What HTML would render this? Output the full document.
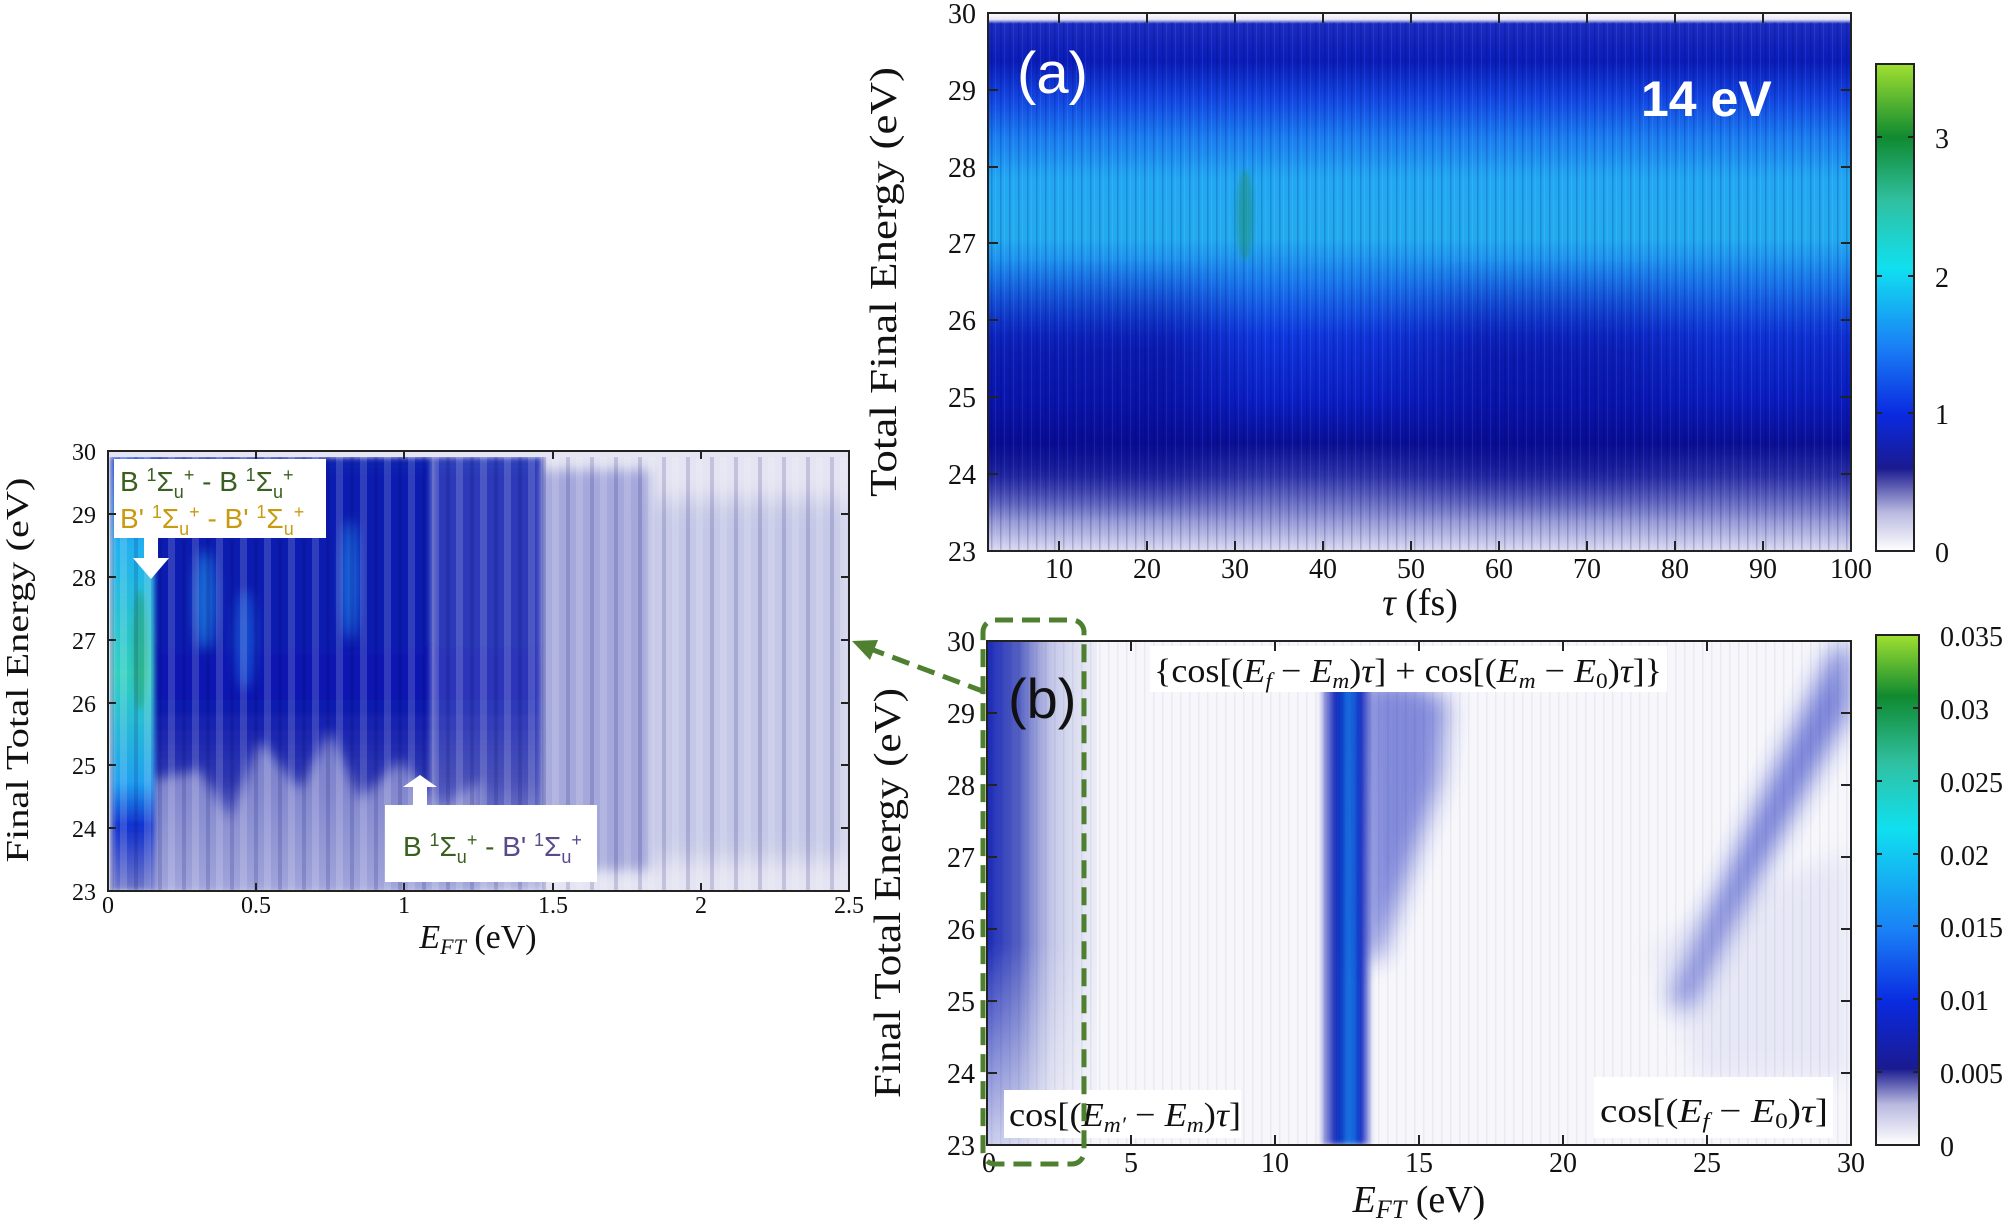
<!DOCTYPE html>
<html><head><meta charset="utf-8"><style>
html,body{margin:0;padding:0;background:#fff;}
svg{display:block;}
text{font-family:"Liberation Serif",serif;fill:#111;}
.s{font-family:"Liberation Sans",sans-serif;}
</style></head><body>
<svg width="2010" height="1223" viewBox="0 0 2010 1223" xmlns="http://www.w3.org/2000/svg">
<defs>
<linearGradient id="av" x1="0" y1="0" x2="0" y2="1">
<stop offset="0" stop-color="#ffffff"/><stop offset="0.012" stop-color="#e6e6f6"/>
<stop offset="0.02" stop-color="#1a2cc0"/><stop offset="0.09" stop-color="#0a1cb8"/>
<stop offset="0.16" stop-color="#1246e2"/><stop offset="0.23" stop-color="#1a7cf0"/>
<stop offset="0.31" stop-color="#22a8f2"/><stop offset="0.42" stop-color="#22aaef"/>
<stop offset="0.5" stop-color="#1a7aee"/><stop offset="0.6" stop-color="#1038e0"/>
<stop offset="0.72" stop-color="#0b20c8"/><stop offset="0.8" stop-color="#0a1096"/>
<stop offset="0.86" stop-color="#3036aa"/><stop offset="0.93" stop-color="#8388cf"/>
<stop offset="1" stop-color="#dcdcf2"/></linearGradient>
<linearGradient id="ah" x1="0" y1="0" x2="1" y2="0">
<stop offset="0" stop-color="#080a90" stop-opacity="0.5"/>
<stop offset="0.2" stop-color="#080a90" stop-opacity="0.6"/>
<stop offset="0.32" stop-color="#080a90" stop-opacity="0"/>
<stop offset="0.45" stop-color="#080a90" stop-opacity="0.1"/>
<stop offset="0.58" stop-color="#080a90" stop-opacity="0.55"/>
<stop offset="0.72" stop-color="#080a90" stop-opacity="0.5"/>
<stop offset="0.85" stop-color="#080a90" stop-opacity="0.15"/>
<stop offset="1" stop-color="#080a90" stop-opacity="0.2"/></linearGradient>
<linearGradient id="amv" x1="0" y1="0" x2="0" y2="1">
<stop offset="0" stop-color="#000"/><stop offset="0.35" stop-color="#fff"/>
<stop offset="0.75" stop-color="#fff"/><stop offset="1" stop-color="#000"/></linearGradient>
<mask id="am"><rect x="988" y="260" width="863" height="260" fill="url(#amv)"/></mask>
<pattern id="str" width="9" height="10" patternUnits="userSpaceOnUse">
<rect x="1" width="1.5" height="10" fill="#000050" opacity="0.18"/>
<rect x="5" width="1" height="10" fill="#fff" opacity="0.08"/></pattern>
<linearGradient id="cba" x1="0" y1="1" x2="0" y2="0">
<stop offset="0" stop-color="#ffffff"/><stop offset="0.08" stop-color="#b8b8e0"/>
<stop offset="0.17" stop-color="#1a1a90"/><stop offset="0.28" stop-color="#0a2ae0"/>
<stop offset="0.42" stop-color="#1a80f6"/><stop offset="0.58" stop-color="#10e0f0"/>
<stop offset="0.72" stop-color="#30c0a0"/><stop offset="0.85" stop-color="#108a30"/>
<stop offset="1" stop-color="#a0e030"/></linearGradient>
<linearGradient id="cbb" x1="0" y1="1" x2="0" y2="0">
<stop offset="0" stop-color="#ffffff"/><stop offset="0.08" stop-color="#b8b8e0"/>
<stop offset="0.15" stop-color="#1a1a90"/><stop offset="0.28" stop-color="#0a2ae0"/>
<stop offset="0.42" stop-color="#1a80f6"/><stop offset="0.62" stop-color="#10e0f0"/>
<stop offset="0.75" stop-color="#30c0a0"/><stop offset="0.88" stop-color="#108a30"/>
<stop offset="1" stop-color="#a0e030"/></linearGradient>
<linearGradient id="bl" x1="0" y1="0" x2="1" y2="0">
<stop offset="0" stop-color="#1a2ab8"/><stop offset="0.3" stop-color="#2030b0" stop-opacity="0.75"/>
<stop offset="0.6" stop-color="#8890d0" stop-opacity="0.45"/><stop offset="1" stop-color="#c0c4e8" stop-opacity="0.2"/></linearGradient>
<linearGradient id="blv" x1="0" y1="0" x2="0" y2="1">
<stop offset="0" stop-color="#fff"/><stop offset="0.6" stop-color="#fff"/><stop offset="1" stop-color="#333"/></linearGradient>
<mask id="blm"><rect x="987" y="641" width="120" height="504" fill="url(#blv)"/></mask>
<linearGradient id="bc" x1="0" y1="0" x2="1" y2="0">
<stop offset="0" stop-color="#5058c8" stop-opacity="0.5"/><stop offset="0.3" stop-color="#0a20b8"/>
<stop offset="0.6" stop-color="#1a80e8"/><stop offset="0.8" stop-color="#0a20c0"/><stop offset="1" stop-color="#3040c0" stop-opacity="0.4"/></linearGradient>
<filter id="bl3" x="-50%" y="-20%" width="200%" height="140%"><feGaussianBlur stdDeviation="3"/></filter>
<filter id="bl6" x="-50%" y="-20%" width="200%" height="140%"><feGaussianBlur stdDeviation="6"/></filter>
<filter id="bl12" x="-50%" y="-20%" width="200%" height="140%"><feGaussianBlur stdDeviation="12"/></filter>
<linearGradient id="lv" x1="0" y1="0" x2="0" y2="1">
<stop offset="0" stop-color="#1020b0"/><stop offset="0.55" stop-color="#0a18b0"/>
<stop offset="0.75" stop-color="#3038b0"/><stop offset="1" stop-color="#b0b4e0"/></linearGradient>
<linearGradient id="lc" x1="0" y1="0" x2="0" y2="1">
<stop offset="0" stop-color="#1840e0"/><stop offset="0.2" stop-color="#20b0f0"/>
<stop offset="0.5" stop-color="#30d0c0"/><stop offset="0.75" stop-color="#20a0f0"/>
<stop offset="0.85" stop-color="#1030d0"/><stop offset="1" stop-color="#7078c8"/></linearGradient>
<pattern id="lstr" width="24" height="10" patternUnits="userSpaceOnUse">
<rect x="0" width="7" height="10" fill="#fff" opacity="0.15"/><rect x="14" width="4" height="10" fill="#000060" opacity="0.15"/></pattern>
<clipPath id="cpb"><rect x="987" y="641" width="864" height="504"/></clipPath>
<clipPath id="cpl"><rect x="108" y="457" width="741" height="434"/></clipPath>
</defs>

<!-- ===== Panel (a) ===== -->
<rect x="988" y="13" width="863" height="538" fill="url(#av)"/>
<rect x="988" y="13" width="863" height="538" fill="url(#ah)" mask="url(#am)"/>
<rect x="988" y="22" width="863" height="529" fill="url(#str)"/>
<ellipse cx="1245" cy="215" rx="8" ry="45" fill="#1a8a6a" opacity="0.5" filter="url(#bl3)"/>
<rect x="988" y="13" width="863" height="538" fill="none" stroke="#222" stroke-width="2"/>
<g stroke="#222" stroke-width="2">
<path d="M988 474h10M988 397h10M988 320h10M988 243h10M988 167h10M988 90h10M1851 474h-10M1851 397h-10M1851 320h-10M1851 243h-10M1851 167h-10M1851 90h-10"/>
<path d="M1059 551v-10M1147 551v-10M1235 551v-10M1323 551v-10M1411 551v-10M1499 551v-10M1587 551v-10M1675 551v-10M1763 551v-10M1059 13v10M1147 13v10M1235 13v10M1323 13v10M1411 13v10M1499 13v10M1587 13v10M1675 13v10M1763 13v10"/>
</g>
<g font-size="28" text-anchor="end">
<text x="976" y="561">23</text><text x="976" y="484">24</text><text x="976" y="407">25</text><text x="976" y="330">26</text><text x="976" y="253">27</text><text x="976" y="177">28</text><text x="976" y="100">29</text><text x="976" y="23">30</text></g>
<g font-size="28" text-anchor="middle">
<text x="1059" y="578">10</text><text x="1147" y="578">20</text><text x="1235" y="578">30</text><text x="1323" y="578">40</text><text x="1411" y="578">50</text><text x="1499" y="578">60</text><text x="1587" y="578">70</text><text x="1675" y="578">80</text><text x="1763" y="578">90</text><text x="1851" y="578">100</text></g>
<text x="1420" y="615" font-size="38" text-anchor="middle"><tspan font-style="italic">τ</tspan> (fs)</text>
<text transform="translate(896,282) rotate(-90)" font-size="38" text-anchor="middle" textLength="430" lengthAdjust="spacingAndGlyphs">Total Final Energy (eV)</text>
<text class="s" x="1017" y="93" font-size="58" style="fill:#fff">(a)</text>
<text class="s" x="1641" y="116" font-size="50" font-weight="bold" style="fill:#fff">14 eV</text>
<rect x="1876" y="64" width="38" height="487" fill="url(#cba)" stroke="#222" stroke-width="2"/>
<g stroke="#222" stroke-width="2"><path d="M1876 413h6M1914 413h-6M1876 276h6M1914 276h-6M1876 137h6M1914 137h-6"/></g>
<g font-size="28"><text x="1935" y="562">0</text><text x="1935" y="424">1</text><text x="1935" y="287">2</text><text x="1935" y="148">3</text></g>

<!-- ===== Panel (b) ===== -->
<rect x="987" y="641" width="864" height="504" fill="#f7f7fb"/>
<g clip-path="url(#cpb)">
<rect x="987" y="641" width="110" height="504" fill="url(#bl)" mask="url(#blm)"/>
<rect x="1322" y="675" width="48" height="470" fill="url(#bc)" filter="url(#bl3)"/>
<polygon points="1360,680 1410,680 1448,700 1440,780 1410,870 1380,960 1365,960" fill="#2030c0" opacity="0.55" filter="url(#bl12)"/>
<polygon points="1835,645 1850,645 1850,710 1730,930 1690,1010 1670,1000 1760,800" fill="#2030c0" opacity="0.6" filter="url(#bl12)"/>
<polygon points="1650,950 1720,900 1850,850 1850,1080 1700,1080" fill="#9098d8" opacity="0.15" filter="url(#bl12)"/>
<rect x="987" y="641" width="864" height="504" fill="url(#str)" opacity="0.3"/>
</g>
<rect x="1150" y="646" width="517" height="46" fill="#fff"/>
<rect x="1004" y="1090" width="237" height="48" fill="#fff"/>
<rect x="1594" y="1077" width="239" height="61" fill="#fff"/>
<rect x="987" y="641" width="864" height="504" fill="none" stroke="#222" stroke-width="2"/>
<g stroke="#222" stroke-width="2">
<path d="M987 1073h10M987 1001h10M987 929h10M987 857h10M987 785h10M987 713h10M1851 1073h-10M1851 1001h-10M1851 929h-10M1851 857h-10M1851 785h-10M1851 713h-10"/>
<path d="M1131 1145v-10M1275 1145v-10M1419 1145v-10M1563 1145v-10M1707 1145v-10M1131 641v10M1275 641v10M1419 641v10M1563 641v10M1707 641v10"/>
</g>
<g font-size="28" text-anchor="end">
<text x="975" y="1155">23</text><text x="975" y="1083">24</text><text x="975" y="1011">25</text><text x="975" y="939">26</text><text x="975" y="867">27</text><text x="975" y="795">28</text><text x="975" y="723">29</text><text x="975" y="651">30</text></g>
<g font-size="28" text-anchor="middle">
<text x="989" y="1172">0</text><text x="1131" y="1172">5</text><text x="1275" y="1172">10</text><text x="1419" y="1172">15</text><text x="1563" y="1172">20</text><text x="1707" y="1172">25</text><text x="1851" y="1172">30</text></g>
<text x="1419" y="1212" font-size="38" text-anchor="middle"><tspan font-style="italic">E</tspan><tspan font-style="italic" font-size="26" dy="6">FT</tspan><tspan dy="-6"> (eV)</tspan></text>
<text transform="translate(900,893) rotate(-90)" font-size="38" text-anchor="middle" textLength="410" lengthAdjust="spacingAndGlyphs">Final Total Energy (eV)</text>
<text class="s" x="1008" y="718" font-size="56">(b)</text>
<text x="1154" y="682" font-size="34" textLength="508" lengthAdjust="spacingAndGlyphs">{cos[(<tspan font-style="italic">E</tspan><tspan font-style="italic" font-size="22" dy="6">f</tspan><tspan dy="-6"> − </tspan><tspan font-style="italic">E</tspan><tspan font-style="italic" font-size="22" dy="6">m</tspan><tspan dy="-6">)</tspan><tspan font-style="italic">τ</tspan>] + cos[(<tspan font-style="italic">E</tspan><tspan font-style="italic" font-size="22" dy="6">m</tspan><tspan dy="-6"> − </tspan><tspan font-style="italic">E</tspan><tspan font-size="22" dy="6">0</tspan><tspan dy="-6">)</tspan><tspan font-style="italic">τ</tspan>]}</text>
<text x="1009" y="1126" font-size="34" textLength="232" lengthAdjust="spacingAndGlyphs">cos[(<tspan font-style="italic">E</tspan><tspan font-style="italic" font-size="22" dy="6">m′</tspan><tspan dy="-6"> − </tspan><tspan font-style="italic">E</tspan><tspan font-style="italic" font-size="22" dy="6">m</tspan><tspan dy="-6">)</tspan><tspan font-style="italic">τ</tspan>]</text>
<text x="1600" y="1122" font-size="34" textLength="228" lengthAdjust="spacingAndGlyphs">cos[(<tspan font-style="italic">E</tspan><tspan font-style="italic" font-size="22" dy="6">f</tspan><tspan dy="-6"> − </tspan><tspan font-style="italic">E</tspan><tspan font-size="22" dy="6">0</tspan><tspan dy="-6">)</tspan><tspan font-style="italic">τ</tspan>]</text>
<rect x="1876" y="635" width="43" height="510" fill="url(#cbb)" stroke="#222" stroke-width="2"/>
<g stroke="#222" stroke-width="2"><path d="M1876 1072h6M1919 1072h-6M1876 999h6M1919 999h-6M1876 926h6M1919 926h-6M1876 854h6M1919 854h-6M1876 781h6M1919 781h-6M1876 708h6M1919 708h-6"/></g>
<g font-size="28"><text x="1940" y="1156">0</text><text x="1940" y="1083">0.005</text><text x="1940" y="1010">0.01</text><text x="1940" y="937">0.015</text><text x="1940" y="865">0.02</text><text x="1940" y="792">0.025</text><text x="1940" y="719">0.03</text><text x="1940" y="646">0.035</text></g>

<rect x="983" y="620" width="101" height="544" rx="12" fill="none" stroke="#4f8030" stroke-width="5" stroke-dasharray="18,9"/>
<line x1="985" y1="692" x2="868" y2="648" stroke="#4f8030" stroke-width="5" stroke-dasharray="18,9"/>
<polygon points="852,641 878,640 870,660" fill="#4f8030"/>

<!-- ===== Left panel ===== -->
<rect x="108" y="451" width="741" height="440" fill="#e4e4f2"/>
<g clip-path="url(#cpl)">
<rect x="150" y="457" width="282" height="434" fill="url(#lv)" filter="url(#bl3)"/>
<rect x="432" y="457" width="110" height="434" fill="url(#lv)" opacity="0.85" filter="url(#bl3)"/>
<rect x="540" y="470" width="110" height="400" fill="#5860c0" opacity="0.45" filter="url(#bl6)"/>
<rect x="650" y="500" width="200" height="360" fill="#8088cc" opacity="0.3" filter="url(#bl12)"/>
<polygon points="150,780 200,770 230,820 260,740 300,790 330,730 360,800 400,760 440,810 480,780 480,891 150,891" fill="#9ca0d8" opacity="0.75" filter="url(#bl6)"/>
<rect x="112" y="457" width="42" height="434" fill="url(#lc)" filter="url(#bl3)"/>
<ellipse cx="140" cy="650" rx="7" ry="60" fill="#2a9a60" opacity="0.5" filter="url(#bl3)"/>
<ellipse cx="205" cy="600" rx="10" ry="50" fill="#20a0f0" opacity="0.6" filter="url(#bl6)"/>
<ellipse cx="245" cy="640" rx="10" ry="50" fill="#1a80f0" opacity="0.5" filter="url(#bl6)"/>
<ellipse cx="350" cy="580" rx="8" ry="60" fill="#2090f0" opacity="0.7" filter="url(#bl6)"/>
<rect x="108" y="457" width="741" height="434" fill="url(#lstr)"/>
</g>
<rect x="114" y="459" width="212" height="79" fill="#fff"/>
<text class="s" x="120" y="491" font-size="28" style="fill:#3a6020">B <tspan font-size="18" dy="-10">1</tspan><tspan dy="10">Σ</tspan><tspan font-size="18" dy="7">u</tspan><tspan font-size="18" dy="-17">+</tspan><tspan dy="10"> - B </tspan><tspan font-size="18" dy="-10">1</tspan><tspan dy="10">Σ</tspan><tspan font-size="18" dy="7">u</tspan><tspan font-size="18" dy="-17">+</tspan></text>
<text class="s" x="120" y="528" font-size="28" style="fill:#c89a10">B' <tspan font-size="18" dy="-10">1</tspan><tspan dy="10">Σ</tspan><tspan font-size="18" dy="7">u</tspan><tspan font-size="18" dy="-17">+</tspan><tspan dy="10"> - B' </tspan><tspan font-size="18" dy="-10">1</tspan><tspan dy="10">Σ</tspan><tspan font-size="18" dy="7">u</tspan><tspan font-size="18" dy="-17">+</tspan></text>
<polygon points="144,538 158,538 158,558 169,558 151,579 133,558 144,558" fill="#fff"/>
<rect x="385" y="805" width="212" height="77" fill="#fff"/>
<polygon points="413,805 427,805 427,787 437,787 420,775 403,787 413,787" fill="#fff"/>
<text class="s" x="403" y="856" font-size="28"><tspan style="fill:#3a6020">B <tspan font-size="18" dy="-10">1</tspan><tspan dy="10">Σ</tspan><tspan font-size="18" dy="7">u</tspan><tspan font-size="18" dy="-17">+</tspan><tspan dy="10"> - </tspan></tspan><tspan style="fill:#5a4a8a">B' <tspan font-size="18" dy="-10">1</tspan><tspan dy="10">Σ</tspan><tspan font-size="18" dy="7">u</tspan><tspan font-size="18" dy="-17">+</tspan></tspan></text>
<rect x="108" y="451" width="741" height="440" fill="none" stroke="#222" stroke-width="2"/>
<g stroke="#222" stroke-width="2">
<path d="M108 828h8M108 765h8M108 703h8M108 640h8M108 577h8M108 514h8M849 828h-8M849 765h-8M849 703h-8M849 640h-8M849 577h-8M849 514h-8"/>
<path d="M256 891v-8M404 891v-8M553 891v-8M701 891v-8M256 451v8M404 451v8M553 451v8M701 451v8"/>
</g>
<g font-size="24" text-anchor="end">
<text x="96" y="900">23</text><text x="96" y="837">24</text><text x="96" y="774">25</text><text x="96" y="712">26</text><text x="96" y="649">27</text><text x="96" y="586">28</text><text x="96" y="523">29</text><text x="96" y="460">30</text></g>
<g font-size="24" text-anchor="middle">
<text x="108" y="913">0</text><text x="256" y="913">0.5</text><text x="404" y="913">1</text><text x="553" y="913">1.5</text><text x="701" y="913">2</text><text x="849" y="913">2.5</text></g>
<text x="478" y="948" font-size="34" text-anchor="middle"><tspan font-style="italic">E</tspan><tspan font-style="italic" font-size="22" dy="6">FT</tspan><tspan dy="-6"> (eV)</tspan></text>
<text transform="translate(28,670) rotate(-90)" font-size="32" text-anchor="middle" textLength="385" lengthAdjust="spacingAndGlyphs">Final Total Energy (eV)</text>
</svg>
</body></html>
